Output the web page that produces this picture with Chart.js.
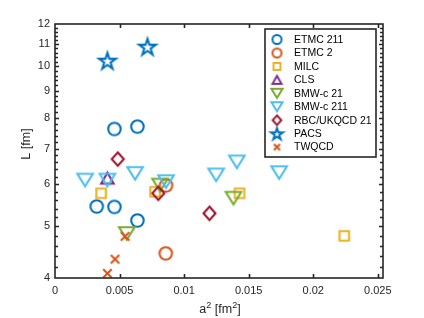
<!DOCTYPE html>
<html><head><meta charset="utf-8">
<script src="https://cdn.jsdelivr.net/npm/chart.js@4/dist/chart.umd.min.js"></script>
<style>html,body{margin:0;padding:0;background:#fff;}#wrap{width:424px;height:318px;}</style>
</head><body><div id="wrap"><canvas id="c" width="424" height="318"></canvas></div>
<script>
// ---- data ----
const xTicks = [0, 0.005, 0.01, 0.015, 0.02, 0.025];
const yTicks = [4, 5, 6, 7, 8, 9, 10, 11, 12];
const seriesNames = ['ETMC 211', 'ETMC 2', 'MILC', 'CLS', 'BMW-c 21', 'BMW-c 211', 'RBC/UKQCD 21', 'PACS', 'TWQCD'];

const etmc211X = [0.0046, 0.00638, 0.00323, 0.0046, 0.00638];
const etmc211Y = [7.62, 7.70, 5.45, 5.44, 5.13];
const etmc2X = [0.0086, 0.00858];
const etmc2Y = [5.97, 4.45];
const milcX = [0.00357, 0.00775, 0.01429, 0.0224];
const milcY = [5.77, 5.81, 5.77, 4.80];
const clsX = [0.00406];
const clsY = [6.16];
const bmw21X = [0.00814, 0.01382, 0.00556];
const bmw21Y = [5.98, 5.65, 4.85];
const bmw211X = [0.00233, 0.00406, 0.0062, 0.0086, 0.01248, 0.01408, 0.01736];
const bmw211Y = [6.11, 6.11, 6.29, 6.07, 6.25, 6.61, 6.31];
const rbcX = [0.00486, 0.0080, 0.01196];
const rbcY = [6.69, 5.77, 5.29];
const pacsX = [0.00406, 0.00716];
const pacsY = [10.24, 10.88];
const twqcdX = [0.00543, 0.00465, 0.00406];
const twqcdY = [4.79, 4.34, 4.08];

const seriesX = [etmc211X, etmc2X, milcX, clsX, bmw21X, bmw211X, rbcX, pacsX, twqcdX];
const seriesY = [etmc211Y, etmc2Y, milcY, clsY, bmw21Y, bmw211Y, rbcY, pacsY, twqcdY];
const markers = ['circle', 'circle', 'square', 'triUp', 'triDown', 'triDown', 'diamond', 'star', 'cross'];
const colors = ['#0072BD', '#D95319', '#EDB120', '#7E2F8E', '#77AC30', '#4DBEEE', '#A2142F', '#0072BD', '#D95319'];

// ---- marker images ----
const dims = {circle:[12.5,12.5], square:[9.5,9.5], triUp:[12.5,11], triDown:[15.5,12.5], diamond:[12,13.5], star:[17.5,17.5], cross:[8.5,8.5]};
function mk(type, color, k, lw) {
  const w = dims[type][0]*k, h = dims[type][1]*k;
  const pad = lw + 2;
  const c = document.createElement('canvas');
  c.width = Math.ceil(w + 2*pad); c.height = Math.ceil(h + 2*pad);
  const g = c.getContext('2d');
  g.translate(c.width/2, c.height/2);
  g.strokeStyle = color; g.lineWidth = lw; g.lineJoin = 'miter';
  g.beginPath();
  if (type === 'circle') { g.arc(0, 0, w/2, 0, Math.PI*2); }
  else if (type === 'square') { g.rect(-w/2, -h/2, w, h); }
  else if (type === 'triUp') { g.moveTo(0, -h/2); g.lineTo(w/2, h/2); g.lineTo(-w/2, h/2); g.closePath(); }
  else if (type === 'triDown') { g.moveTo(0, h/2); g.lineTo(w/2, -h/2); g.lineTo(-w/2, -h/2); g.closePath(); }
  else if (type === 'diamond') { g.moveTo(0, -h/2); g.lineTo(w/2, 0); g.lineTo(0, h/2); g.lineTo(-w/2, 0); g.closePath(); }
  else if (type === 'star') {
    const R = w/2, r = R*0.382;
    for (let i = 0; i < 10; i++) {
      const a = -Math.PI/2 + i*Math.PI/5, rr = i%2 ? r : R;
      const px = Math.cos(a)*rr, py = Math.sin(a)*rr + R*0.1;
      if (i === 0) g.moveTo(px, py); else g.lineTo(px, py);
    }
    g.closePath();
  }
  else if (type === 'cross') { g.moveTo(-w/2, -h/2); g.lineTo(w/2, h/2); g.moveTo(w/2, -h/2); g.lineTo(-w/2, h/2); }
  g.stroke();
  return c;
}

const plotMarkers = markers.map((m, i) => mk(m, colors[i], 1, 2.1));
const legMarkers = markers.map((m, i) => mk(m, colors[i], 0.72, 2));

const datasets = seriesNames.map((name, i) => ({
  label: name,
  data: seriesX[i].map((v, j) => ({x: v, y: seriesY[i][j]})),
  pointStyle: plotMarkers[i],
  pointRadius: 6,
  showLine: false,
  clip: false,
  order: seriesNames.length - i
}));

const AX = '#262626';
const frame = {
  id: 'frame',
  afterDraw(chart) {
    const ctx = chart.ctx, a = chart.chartArea;
    const xs = chart.scales.x, ys = chart.scales.y;
    ctx.save();
    ctx.strokeStyle = AX; ctx.lineWidth = 1.6;
    // ticks
    ctx.beginPath();
    xTicks.forEach(v => {
      if (v <= xs.min || v >= xs.max) return;
      const px = Math.round(xs.getPixelForValue(v)) + 0.5;
      ctx.moveTo(px, a.bottom); ctx.lineTo(px, a.bottom - 4);
      ctx.moveTo(px, a.top); ctx.lineTo(px, a.top + 4);
    });
    for (let k = 21; k < 60; k++) {
      const v = k/5;
      const len = (k % 5 === 0) ? 4 : 3;
      const py = Math.round(ys.getPixelForValue(v)) + 0.5;
      ctx.moveTo(a.left, py); ctx.lineTo(a.left + len, py);
      ctx.moveTo(a.right, py); ctx.lineTo(a.right - len, py);
    }
    ctx.stroke();
    // box
    ctx.strokeRect(a.left, a.top, a.right - a.left, a.bottom - a.top);
    // axis titles
    ctx.fillStyle = AX;
    ctx.textBaseline = 'alphabetic';
    const base = '12.5px "Liberation Sans", Arial, sans-serif';
    const sup = '9px "Liberation Sans", Arial, sans-serif';
    const parts = [['a', base, 0], ['2', sup, -5], [' [fm', base, 0], ['2', sup, -5], [']', base, 0]];
    let tw = 0;
    parts.forEach(p => { ctx.font = p[1]; tw += ctx.measureText(p[0]).width; });
    let x0 = (a.left + a.right)/2 - tw/2 + 1;
    const yb = 313;
    parts.forEach(p => { ctx.font = p[1]; ctx.textAlign = 'left'; ctx.fillText(p[0], x0, yb + p[2]); x0 += ctx.measureText(p[0]).width; });
    ctx.save();
    ctx.translate(30, 144);
    ctx.rotate(-Math.PI/2);
    ctx.font = base; ctx.textAlign = 'center';
    ctx.fillText('L [fm]', 0, 0);
    ctx.restore();
    // legend
    const L = {x: 265, y: 29, w: 111, h: 128};
    ctx.fillStyle = '#fff';
    ctx.fillRect(L.x, L.y, L.w, L.h);
    ctx.strokeStyle = AX; ctx.lineWidth = 1.6;
    ctx.strokeRect(L.x, L.y, L.w, L.h);
    ctx.font = '10.5px "Liberation Sans", Arial, sans-serif';
    ctx.fillStyle = '#000'; ctx.textAlign = 'left'; ctx.textBaseline = 'middle';
    seriesNames.forEach((n, i) => {
      const cy = 39.5 + i*13.45;
      const im = legMarkers[i];
      ctx.drawImage(im, 277 - im.width/2, cy - im.height/2);
      ctx.fillText(n, 294, cy + 0.5);
    });
    ctx.restore();
  }
};

new Chart(document.getElementById('c'), {
  type: 'scatter',
  data: { datasets },
  options: {
    responsive: false,
    animation: false,
    devicePixelRatio: 1,
    layout: { padding: { left: 0, right: 41, top: 24, bottom: 0 } },
    plugins: { legend: { display: false }, tooltip: { enabled: false } },
    scales: {
      x: {
        type: 'linear', min: 0, max: 0.0254,
        grid: { display: false, drawTicks: false },
        border: { display: false },
        afterBuildTicks: s => { s.ticks = xTicks.map(v => ({value: v})); },
        afterFit: s => { s.height = 40; },
        ticks: {
          autoSkip: false, maxRotation: 0, padding: 6, color: AX,
          font: { family: '"Liberation Sans", Arial, sans-serif', size: 11 },
          callback: v => String(+(+v).toFixed(3))
        }
      },
      y: {
        type: 'logarithmic', min: 4, max: 12,
        grid: { display: false, drawTicks: false },
        border: { display: false },
        afterBuildTicks: s => { s.ticks = yTicks.map(v => ({value: v})); },
        afterFit: s => { s.width = 55; },
        ticks: {
          autoSkip: false, padding: 5, color: AX,
          font: { family: '"Liberation Sans", Arial, sans-serif', size: 11 },
          callback: v => String(Math.round(v))
        }
      }
    }
  },
  plugins: [frame]
});
</script>
</body></html>
